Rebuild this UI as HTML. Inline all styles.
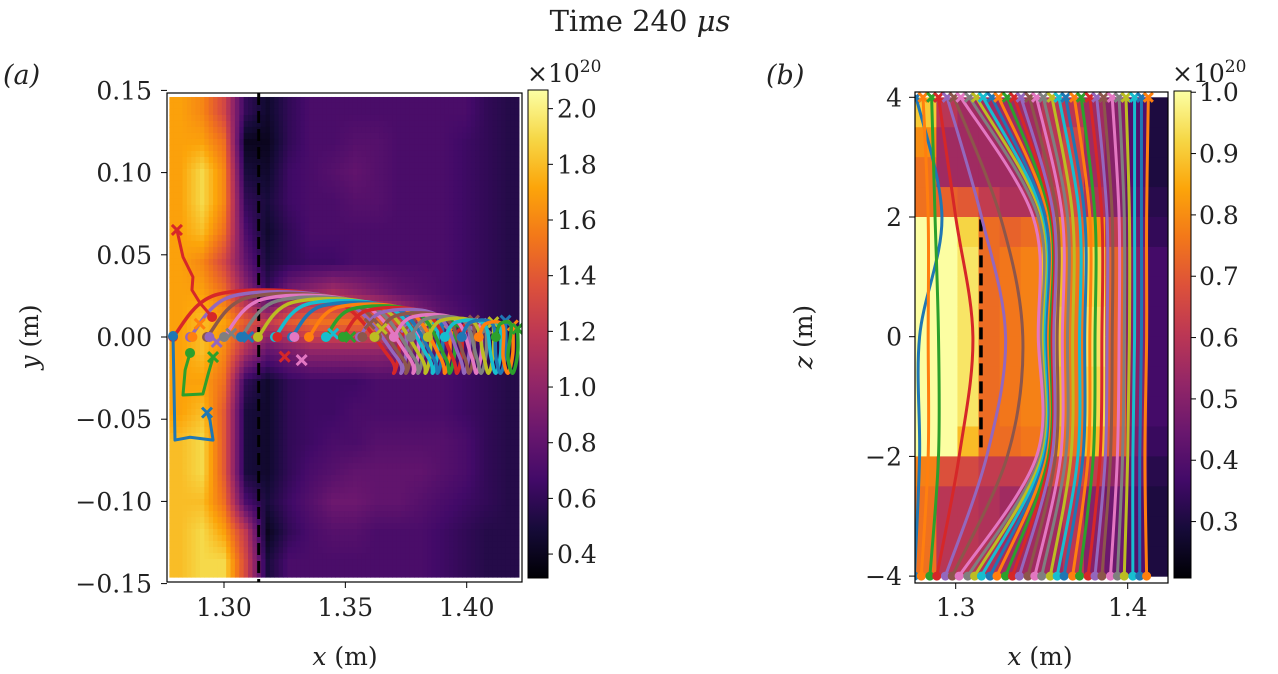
<!DOCTYPE html>
<html><head><meta charset="utf-8">
<style>
html,body{margin:0;padding:0;background:#fff;}
svg{display:block;}
text{font-family:"DejaVu Serif","Liberation Serif",serif;fill:#222;}
</style></head>
<body>
<svg id="fig" width="1278" height="674" viewBox="0 0 1278 674" xmlns="http://www.w3.org/2000/svg">
<defs>
<linearGradient id="infG" x1="0" y1="1" x2="0" y2="0">
<stop offset="0" stop-color="#000004"/><stop offset="0.1" stop-color="#160b39"/><stop offset="0.2" stop-color="#420a68"/><stop offset="0.3" stop-color="#6a176e"/><stop offset="0.4" stop-color="#932667"/><stop offset="0.5" stop-color="#bc3754"/><stop offset="0.6" stop-color="#dd513a"/><stop offset="0.7" stop-color="#f37819"/><stop offset="0.8" stop-color="#fca50a"/><stop offset="0.9" stop-color="#f6d746"/><stop offset="1" stop-color="#fcffa4"/>
</linearGradient>
<clipPath id="clipA"><rect x="167" y="93" width="355" height="489"/></clipPath>
<clipPath id="clipB"><rect x="915" y="92" width="253" height="491"/></clipPath>
</defs>
<text x="640" y="31" font-size="29" text-anchor="middle">Time 240 <tspan font-style="italic">μs</tspan></text>
<text x="3" y="84" font-size="27" font-style="italic">(a)</text>
<text x="766" y="84" font-size="27" font-style="italic">(b)</text>
<g id="gA"></g>
<g id="gB"></g>
</svg>
<script>
// ---------- data: panel (a) density grid (x1e20), rows top (y=+0.145) to bottom ----------
const gridA = [
[1.7,1.6,1.3,0.6,0.45,0.6,0.7,0.7,0.7,0.7,0.7,0.7,0.7,0.7,0.6,0.55],
[1.7,1.7,1.5,0.4,0.4,0.6,0.7,0.7,0.75,0.75,0.7,0.7,0.7,0.65,0.6,0.55],
[1.7,1.9,1.6,0.5,0.45,0.65,0.7,0.75,0.8,0.75,0.7,0.7,0.7,0.65,0.6,0.55],
[1.7,1.9,1.6,0.6,0.5,0.65,0.7,0.7,0.75,0.75,0.7,0.7,0.7,0.65,0.6,0.55],
[1.7,1.8,1.5,0.7,0.45,0.6,0.7,0.7,0.7,0.7,0.7,0.7,0.7,0.65,0.6,0.55],
[1.7,1.6,1.3,0.8,0.5,0.6,0.65,0.65,0.7,0.7,0.7,0.7,0.7,0.65,0.6,0.55],
[1.7,1.7,1.5,1.0,0.6,0.9,1.0,1.1,1.0,0.9,0.8,0.75,0.7,0.65,0.6,0.55],
[1.7,1.8,1.7,1.4,1.2,1.4,1.5,1.5,1.5,1.5,1.3,1.0,0.8,0.7,0.6,0.55],
[1.7,1.8,1.6,1.1,0.8,0.9,1.0,1.0,1.0,1.0,0.95,0.8,0.75,0.7,0.6,0.55],
[1.7,1.7,1.5,0.6,0.45,0.6,0.65,0.65,0.65,0.7,0.7,0.7,0.7,0.65,0.6,0.55],
[1.7,1.8,1.4,0.5,0.45,0.6,0.65,0.65,0.7,0.7,0.7,0.7,0.7,0.65,0.6,0.55],
[1.8,1.9,1.4,0.5,0.45,0.6,0.65,0.7,0.7,0.75,0.75,0.75,0.75,0.7,0.6,0.55],
[1.8,1.9,1.4,0.5,0.45,0.6,0.7,0.75,0.8,0.8,0.8,0.8,0.75,0.7,0.6,0.55],
[1.8,1.8,1.5,0.7,0.5,0.65,0.75,0.85,0.85,0.8,0.8,0.75,0.7,0.65,0.6,0.55],
[1.8,1.9,1.7,1.2,0.4,0.6,0.7,0.75,0.75,0.7,0.7,0.7,0.65,0.6,0.55,0.55],
[1.8,1.9,1.9,1.3,0.5,0.7,0.7,0.7,0.7,0.7,0.7,0.7,0.65,0.6,0.55,0.55]
];
const xTicksA = [1.30, 1.35, 1.40];
const xTickLabelsA = ["1.30","1.35","1.40"];
const yTicksA = [0.15, 0.10, 0.05, 0.00, -0.05, -0.10, -0.15];
const yTickLabelsA = ["0.15","0.10","0.05","0.00","\u22120.05","\u22120.10","\u22120.15"];
const cbTicksA = [2.0,1.8,1.6,1.4,1.2,1.0,0.8,0.6,0.4];
const cbLabelsA = ["2.0","1.8","1.6","1.4","1.2","1.0","0.8","0.6","0.4"];
const dashXA = 1.3143;
// tracks (a)
const trackStartX = [1.279,1.286,1.293,1.300,1.307,1.314,1.321,1.328,1.335,1.342,1.349,1.356,1.363,1.370,1.377,1.384,1.391,1.398,1.405,1.412];
const trackPeakY = [0.026,0.025,0.024,0.023,0.022,0.021,0.020,0.019,0.018,0.017,0.016,0.015,0.013,0.012,0.011,0.010,0.009,0.009,0.008,0.008];
const trackHookX = [1.372,1.375,1.377,1.380,1.382,1.385,1.388,1.390,1.393,1.395,1.398,1.401,1.403,1.406,1.408,1.411,1.414,1.416,1.419,1.421];
const trackEndY = [0.004,0.006,0.008,0.005,0.007,0.010,0.006,0.008,0.004,0.009,0.006,0.007,0.010,0.008,0.005,0.009,0.006,0.010,0.007,0.005];
const shortX = [1.290,1.297,1.303,1.310,1.325,1.332,1.345,1.352,1.360,1.365];
const shortY = [0.008,-0.003,0.002,0.000,-0.012,-0.014,0.002,0.000,0.008,0.005];
const redTrackX = [1.2951,1.2901,1.2868,1.2872,1.2831,1.2806];
const redTrackY = [0.0122,0.0207,0.0286,0.0365,0.0487,0.0651];
const greenTrackX = [1.2860,1.2840,1.2831,1.2913,1.2934,1.2955];
const greenTrackY = [-0.0097,-0.020,-0.0353,-0.0347,-0.023,-0.0122];
const blueTrackX = [1.2790,1.2798,1.2860,1.2955,1.2942,1.2930];
const blueTrackY = [0.0006,-0.0627,-0.061,-0.0627,-0.0505,-0.046];

// ---------- data: panel (b) ----------
const gridB = [
[0.9,0.6,0.55,0.55,0.55,0.55,0.6,0.6,0.55,0.5,0.4,0.3],
[0.8,0.55,0.55,0.55,0.55,0.55,0.6,0.65,0.55,0.5,0.4,0.3],
[0.75,0.55,0.55,0.55,0.55,0.55,0.6,0.65,0.55,0.5,0.4,0.3],
[0.75,0.72,0.7,0.62,0.58,0.58,0.62,0.66,0.58,0.5,0.42,0.32],
[1.0,1.0,0.92,0.74,0.72,0.74,0.8,0.72,0.82,0.62,0.46,0.34],
[1.0,1.0,0.95,0.74,0.76,0.78,0.88,0.76,0.93,0.72,0.5,0.37],
[1.0,1.0,0.95,0.74,0.76,0.78,0.88,0.76,0.93,0.72,0.5,0.37],
[1.0,1.0,0.95,0.74,0.76,0.78,0.9,0.76,0.95,0.72,0.5,0.37],
[1.0,1.0,0.95,0.74,0.76,0.78,0.9,0.76,0.95,0.72,0.5,0.37],
[1.0,1.0,0.95,0.74,0.76,0.78,0.88,0.76,0.93,0.72,0.5,0.37],
[1.0,1.0,0.95,0.74,0.76,0.78,0.88,0.76,0.93,0.72,0.5,0.37],
[1.0,1.0,0.88,0.74,0.74,0.76,0.85,0.75,0.88,0.7,0.48,0.35],
[0.78,0.68,0.66,0.62,0.62,0.62,0.66,0.66,0.62,0.52,0.44,0.32],
[0.75,0.6,0.6,0.58,0.55,0.55,0.55,0.6,0.5,0.45,0.4,0.3],
[0.75,0.6,0.6,0.58,0.55,0.55,0.55,0.6,0.5,0.45,0.4,0.3],
[0.75,0.6,0.6,0.58,0.55,0.55,0.55,0.6,0.5,0.45,0.4,0.3]
];
const xTicksB = [1.3, 1.4];
const xTickLabelsB = ["1.3","1.4"];
const zTicksB = [4,2,0,-2,-4];
const zTickLabelsB = ["4","2","0","\u22122","\u22124"];
const cbTicksB = [1.0,0.9,0.8,0.7,0.6,0.5,0.4,0.3];
const cbLabelsB = ["1.0","0.9","0.8","0.7","0.6","0.5","0.4","0.3"];
const dashXB = 1.3147;
const lineBottomX = [1.276,1.280,1.285,1.289,1.294,1.298,1.302,1.307,1.311,1.315,1.320,1.324,1.329,1.333,1.337,1.342,1.346,1.350,1.355,1.359,1.363,1.368,1.372,1.377,1.381,1.385,1.390,1.394,1.398,1.403,1.407,1.411];
const lineLowX = [1.279,1.284,1.290,1.302,1.318,1.330,1.347,1.349,1.350,1.351,1.352,1.353,1.354,1.355,1.356,1.358,1.361,1.364,1.367,1.371,1.374,1.377,1.380,1.384,1.387,1.390,1.394,1.397,1.400,1.403,1.407,1.410];
const lineMidX = [1.279,1.284,1.290,1.310,1.329,1.339,1.348,1.350,1.351,1.352,1.353,1.354,1.355,1.356,1.357,1.359,1.362,1.365,1.368,1.372,1.375,1.378,1.381,1.385,1.388,1.391,1.395,1.398,1.401,1.404,1.408,1.411];
const lineHighX = [1.292,1.284,1.288,1.300,1.315,1.326,1.345,1.348,1.350,1.351,1.352,1.354,1.355,1.356,1.357,1.359,1.362,1.365,1.368,1.372,1.375,1.378,1.381,1.385,1.388,1.391,1.395,1.398,1.401,1.404,1.408,1.411];
const lineTopX = [1.277,1.281,1.286,1.290,1.295,1.299,1.303,1.308,1.312,1.316,1.321,1.325,1.330,1.334,1.338,1.343,1.347,1.351,1.356,1.360,1.364,1.369,1.373,1.378,1.382,1.386,1.391,1.395,1.399,1.404,1.408,1.412];
const lineZ = [-4,-2,0,2,4];

const tab10 = ["#1f77b4","#ff7f0e","#2ca02c","#d62728","#9467bd","#8c564b","#e377c2","#7f7f7f","#bcbd22","#17becf"];
const INF = [[0,0,4],[22,11,57],[66,10,104],[106,23,110],[147,38,103],[188,55,84],[221,81,58],[243,120,25],[252,165,10],[246,215,70],[252,255,164]];
function cmap(t){t=Math.max(0,Math.min(1,t));const f=t*10,i=Math.min(9,Math.floor(f)),r=f-i;const a=INF[i],b=INF[i+1];return `rgb(${Math.round(a[0]+(b[0]-a[0])*r)},${Math.round(a[1]+(b[1]-a[1])*r)},${Math.round(a[2]+(b[2]-a[2])*r)})`;}
const NS="http://www.w3.org/2000/svg";
function mk(tag,attrs,parent){const e=document.createElementNS(NS,tag);for(const k in attrs)e.setAttribute(k,attrs[k]);parent.appendChild(e);return e;}
function txt(s,attrs,parent){const e=mk('text',attrs,parent);e.textContent=s;return e;}
function smooth(pts){let d=`M${pts[0][0]},${pts[0][1]}`;for(let i=0;i<pts.length-1;i++){const p0=pts[Math.max(0,i-1)],p1=pts[i],p2=pts[i+1],p3=pts[Math.min(pts.length-1,i+2)];d+=` C${p1[0]+(p2[0]-p0[0])/6},${p1[1]+(p2[1]-p0[1])/6} ${p2[0]-(p3[0]-p1[0])/6},${p2[1]-(p3[1]-p1[1])/6} ${p2[0]},${p2[1]}`;}return d;}
function xmark(g,x,y,c,s){mk('path',{d:`M${x-s},${y-s}L${x+s},${y+s}M${x-s},${y+s}L${x+s},${y-s}`,stroke:c,'stroke-width':3,fill:'none'},g);}
const TF=25;

// ================= PANEL A =================
const gA=document.getElementById('gA');
const xA=x=>224+(x-1.30)*2427, yA=y=>337-y*1644;
const heatA=mk('g',{'clip-path':'url(#clipA)'},gA);


{const vmin=0.314,vmax=2.067,x0=1.2775,x1=1.4215,y0=0.146,y1=-0.146;
 const R=gridA.length,C=gridA[0].length,S=5;
 const cw=(xA(x1)-xA(x0))/(C*S), ch=(yA(y1)-yA(y0))/(R*S);
 function val(u,v){u=Math.max(0,Math.min(C-1,u));v=Math.max(0,Math.min(R-1,v));const i=Math.min(C-2,Math.floor(u)),j=Math.min(R-2,Math.floor(v)),a=u-i,b=v-j;return gridA[j][i]*(1-a)*(1-b)+gridA[j][i+1]*a*(1-b)+gridA[j+1][i]*(1-a)*b+gridA[j+1][i+1]*a*b;}
 for(let r=0;r<R*S;r++)for(let c=0;c<C*S;c++){const v=val((c+0.5)/S-0.5,(r+0.5)/S-0.5);
  mk('rect',{x:(xA(x0)+c*cw).toFixed(2),y:(yA(y0)+r*ch).toFixed(2),width:(cw+0.6).toFixed(2),height:(ch+0.6).toFixed(2),fill:cmap((v-vmin)/(vmax-vmin))},heatA);}
}
{const l=mk('line',{x1:xA(dashXA),x2:xA(dashXA),y1:93,y2:582,stroke:'#000','stroke-width':3,'stroke-dasharray':'12,6'},gA);
 
 }
const trA=mk('g',{'clip-path':'url(#clipA)'},gA);


for(let i=0;i<trackStartX.length;i++){const c=tab10[(i+3)%10];
 const sx=trackStartX[i],hx=trackHookX[i],pk=trackPeakY[i];
 const pts=[[xA(sx),yA(0)],[xA(sx+(hx-sx)*0.2),yA(pk)],[xA(sx+(hx-sx)*0.7),yA(pk*0.9)],[xA(hx-0.004),yA(-0.012)],[xA(hx-0.002),yA(-0.022)],[xA(hx),yA(-0.01)],[xA(hx),yA(trackEndY[i])]];
 const p=mk('path',{d:smooth(pts),stroke:c,'stroke-width':3.5,fill:'none','stroke-linecap':'round'},trA);
 
 
 mk('circle',{cx:xA(sx),cy:yA(0),r:5,fill:c},trA);
 xmark(trA,xA(hx),yA(trackEndY[i]),c,5);
}
for(let i=0;i<shortX.length;i++){const c=tab10[(i*3+1)%10];mk('circle',{cx:xA(shortX[i]-0.003),cy:yA(0),r:5,fill:c},trA);xmark(trA,xA(shortX[i]),yA(shortY[i]),c,5);}
[[redTrackX,redTrackY,'#d62728','red-track'],[greenTrackX,greenTrackY,'#2ca02c','green-track'],[blueTrackX,blueTrackY,'#1f77b4','blue-track']].forEach(([X,Y,c,n])=>{
 const pts=X.map((x,k)=>[xA(x),yA(Y[k])]);
 const p=mk('path',{d:'M'+pts.map(q=>q.join(',')).join('L'),stroke:c,'stroke-width':3,fill:'none','stroke-linejoin':'round'},trA);
 
 
 mk('circle',{cx:pts[0][0],cy:pts[0][1],r:5,fill:c},trA);
 xmark(trA,pts[pts.length-1][0],pts[pts.length-1][1],c,5);
});
mk('rect',{x:167,y:93,width:355,height:489,fill:'none',stroke:'#000','stroke-width':1.2},gA);
xTicksA.forEach((t,i)=>{const x=xA(t);mk('line',{x1:x,x2:x,y1:582,y2:588,stroke:'#000'},gA);
 const e=txt(xTickLabelsA[i],{x:x,y:616,'font-size':TF,'text-anchor':'middle'},gA);
 
 });
yTicksA.forEach((t,i)=>{const y=yA(t);mk('line',{x1:161,x2:167,y1:y,y2:y,stroke:'#000'},gA);
 const e=txt(yTickLabelsA[i],{x:152,y:y+9,'font-size':TF,'text-anchor':'end'},gA);
 
 });
{const e=txt('',{x:345,y:665,'font-size':TF,'text-anchor':'middle'},gA);e.innerHTML='<tspan font-style="italic">x</tspan> (m)';
 
 }
{const e=txt('',{x:0,y:0,'font-size':TF,'text-anchor':'middle',transform:'translate(38,337) rotate(-90)'},gA);e.innerHTML='<tspan font-style="italic">y</tspan> (m)';
 
 }
{const top=90,bot=578,vmin=0.314,vmax=2.067;const cy=v=>bot-(v-vmin)/(vmax-vmin)*(bot-top);
 const r=mk('rect',{x:528,y:top,width:20,height:bot-top,fill:'url(#infG)',stroke:'#000','stroke-width':1},gA);
 
 
 cbTicksA.forEach((t,i)=>{const y=cy(t);mk('line',{x1:548,x2:553,y1:y,y2:y,stroke:'#000'},gA);
  const e=txt(cbLabelsA[i],{x:557,y:y+9,'font-size':TF},gA);
  
  });
 const e=txt('',{x:527,y:82,'font-size':TF},gA);e.innerHTML='×10<tspan font-size="17" dy="-10">20</tspan>';
 
 }

// ================= PANEL B =================
const gB=document.getElementById('gB');
const xB=x=>955.7+(x-1.3)*1720, zB=z=>336.7-z*59.85;
const heatB=mk('g',{'clip-path':'url(#clipB)'},gB);


{const vmin=0.208,vmax=1.002,x0=1.2765,x1=1.4236,z0=4.0,z1=-4.0;
 const R=gridB.length,C=gridB[0].length;const cw=(xB(x1)-xB(x0))/C,ch=(zB(z1)-zB(z0))/R;
 for(let r=0;r<R;r++)for(let c=0;c<C;c++)mk('rect',{x:xB(x0)+c*cw,y:zB(z0)+r*ch,width:cw+0.6,height:ch+0.6,fill:cmap((gridB[r][c]-vmin)/(vmax-vmin))},heatB);}
{const l=mk('line',{x1:xB(dashXB),x2:xB(dashXB),y1:zB(1.96),y2:zB(-1.94),stroke:'#000','stroke-width':3.5,'stroke-dasharray':'12,6'},gB);
 
 }
const lnB=mk('g',{'clip-path':'url(#clipB)'},gB);


for(let i=0;i<lineBottomX.length;i++){const c=tab10[i%10];
 const xs=[lineBottomX[i],lineLowX[i],lineMidX[i],lineHighX[i],lineTopX[i]];
 const pts=xs.map((x,k)=>[xB(x),zB(lineZ[k])]);
 const p=mk('path',{d:smooth(pts),stroke:c,'stroke-width':3,fill:'none'},lnB);
 
 
 mk('circle',{cx:pts[0][0],cy:pts[0][1],r:4.5,fill:c},lnB);
 xmark(lnB,pts[4][0],pts[4][1],c,4.5);
}
mk('rect',{x:915,y:92,width:253,height:491,fill:'none',stroke:'#000','stroke-width':1.2},gB);
xTicksB.forEach((t,i)=>{const x=xB(t);mk('line',{x1:x,x2:x,y1:583,y2:589,stroke:'#000'},gB);
 const e=txt(xTickLabelsB[i],{x:x,y:616,'font-size':TF,'text-anchor':'middle'},gB);
 
 });
zTicksB.forEach((t,i)=>{const y=zB(t);mk('line',{x1:909,x2:915,y1:y,y2:y,stroke:'#000'},gB);
 const e=txt(zTickLabelsB[i],{x:902,y:y+9,'font-size':TF,'text-anchor':'end'},gB);
 
 });
{const e=txt('',{x:1040,y:665,'font-size':TF,'text-anchor':'middle'},gB);e.innerHTML='<tspan font-style="italic">x</tspan> (m)';
 
 }
{const e=txt('',{x:0,y:0,'font-size':TF,'text-anchor':'middle',transform:'translate(812,337) rotate(-90)'},gB);e.innerHTML='<tspan font-style="italic">z</tspan> (m)';
 
 }
{const top=91,bot=578,vmin=0.208,vmax=1.002;const cy=v=>bot-(v-vmin)/(vmax-vmin)*(bot-top);
 const r=mk('rect',{x:1174,y:top,width:17,height:bot-top,fill:'url(#infG)',stroke:'#000','stroke-width':1},gB);
 
 
 cbTicksB.forEach((t,i)=>{const y=cy(t);mk('line',{x1:1191,x2:1196,y1:y,y2:y,stroke:'#000'},gB);
  const e=txt(cbLabelsB[i],{x:1199,y:y+9,'font-size':TF},gB);
  
  });
 const e=txt('',{x:1172,y:82,'font-size':TF},gB);e.innerHTML='×10<tspan font-size="17" dy="-10">20</tspan>';
 
 }
</script>
</body></html>
